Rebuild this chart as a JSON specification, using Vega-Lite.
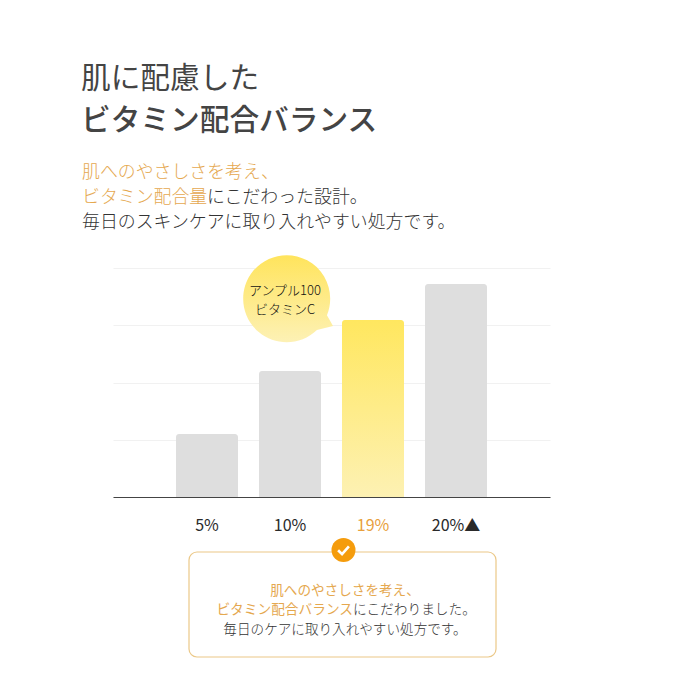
{"$schema":"https://vega.github.io/schema/vega-lite/v6.json","width":437,"height":229,"autosize":"none","padding":{"left":113,"top":268,"right":129,"bottom":182},"background":"white","config":{"view":{"stroke":null},"text":{"font":"Noto Sans CJK JP","baseline":"middle"}},"data":{"values":[{"dose":"5%","level":1.1},{"dose":"10%","level":2.2},{"dose":"19%","level":3.09},{"dose":"20%▲","level":3.72}]},"layer":[{"transform":[{"filter":"datum.dose!=='19%'"}],"mark":{"type":"bar","fill":"#dedede","cornerRadiusTopLeft":3,"cornerRadiusTopRight":3},"encoding":{"x":{"field":"dose","type":"nominal","sort":null,"scale":{"domain":["5%","10%","19%","20%▲"],"paddingInner":0.253,"paddingOuter":0.759},"axis":{"title":null,"labelAngle":0,"ticks":false,"labelPadding":20,"labelFont":"Noto Sans CJK JP","labelFontSize":16,"labelColor":{"condition":{"test":"datum.value==='19%'","value":"#e8a03c"},"value":"#2a2a2a"},"domainColor":"#444444","domainWidth":1,"zindex":1}},"y":{"field":"level","type":"quantitative","scale":{"domain":[0,4],"nice":false},"axis":{"title":null,"labels":false,"ticks":false,"domain":false,"values":[0,1,2,3,4],"grid":true,"gridColor":"#f1f1f1","gridWidth":1}}}},{"transform":[{"filter":"datum.dose==='19%'"}],"mark":{"type":"bar","fill":{"gradient":"linear","x1":0,"y1":0,"x2":0,"y2":1,"stops":[{"offset":0,"color":"#ffe75f"},{"offset":1,"color":"#fdf1b3"}]},"cornerRadiusTopLeft":3,"cornerRadiusTopRight":3},"encoding":{"x":{"field":"dose","type":"nominal","sort":null},"y":{"field":"level","type":"quantitative"}}},{"data":{"values":[{"t":"肌に配慮した"}]},"mark":{"type":"text","align":"left","dx":-126,"fontSize":29.7,"fontWeight":400,"fill":"#444444"},"encoding":{"x":{"datum":"5%","type":"nominal"},"y":{"datum":7.301,"type":"quantitative"},"text":{"field":"t"}}},{"data":{"values":[{"t":"ビタミン配合バランス"}]},"mark":{"type":"text","align":"left","dx":-126,"fontSize":29.7,"fontWeight":500,"fill":"#444444"},"encoding":{"x":{"datum":"5%","type":"nominal"},"y":{"datum":6.568,"type":"quantitative"},"text":{"field":"t"}}},{"data":{"values":[{"t":"肌へのやさしさを考え、"}]},"mark":{"type":"text","align":"left","dx":-125,"fontSize":17.9,"fontWeight":300,"fill":"#e5a84f"},"encoding":{"x":{"datum":"5%","type":"nominal"},"y":{"datum":5.659,"type":"quantitative"},"text":{"field":"t"}}},{"data":{"values":[{"t":"ビタミン配合量"}]},"mark":{"type":"text","align":"left","dx":-125,"fontSize":17.9,"fontWeight":300,"fill":"#e5a84f"},"encoding":{"x":{"datum":"5%","type":"nominal"},"y":{"datum":5.223,"type":"quantitative"},"text":{"field":"t"}}},{"data":{"values":[{"t":"にこだわった設計。"}]},"mark":{"type":"text","align":"left","dx":0,"fontSize":17.9,"fontWeight":300,"fill":"#333333"},"encoding":{"x":{"datum":"5%","type":"nominal"},"y":{"datum":5.223,"type":"quantitative"},"text":{"field":"t"}}},{"data":{"values":[{"t":"毎日のスキンケアに取り入れやすい処方です。"}]},"mark":{"type":"text","align":"left","dx":-125,"fontSize":17.9,"fontWeight":300,"fill":"#333333"},"encoding":{"x":{"datum":"5%","type":"nominal"},"y":{"datum":4.786,"type":"quantitative"},"text":{"field":"t"}}},{"data":{"values":[{"t":"callout"}]},"mark":{"type":"point","shape":"M0.93,0.36 L1.07,0.61 L0.70,0.70 A1,1 0 1 1 0.93,0.36 Z","size":7569,"filled":true,"opacity":1,"xOffset":-3.5,"fill":{"gradient":"linear","x1":0,"y1":0,"x2":0,"y2":1,"stops":[{"offset":0,"color":"#ffe45c"},{"offset":1,"color":"#fdf1b5"}]}},"encoding":{"x":{"datum":"10%","type":"nominal"},"y":{"datum":3.45,"type":"quantitative"}}},{"data":{"values":[{"t":"アンプル100"}]},"mark":{"type":"text","dx":-5,"fontSize":13,"fontWeight":300,"fill":"#111111"},"encoding":{"x":{"datum":"10%","type":"nominal"},"y":{"datum":3.598,"type":"quantitative"},"text":{"field":"t"}}},{"data":{"values":[{"t":"ビタミンC"}]},"mark":{"type":"text","dx":-5,"fontSize":13,"fontWeight":300,"fill":"#111111"},"encoding":{"x":{"datum":"10%","type":"nominal"},"y":{"datum":3.266,"type":"quantitative"},"text":{"field":"t"}}},{"data":{"values":[{"t":"box"}]},"mark":{"type":"point","shape":"M-0.948,-0.342 L0.948,-0.342 A0.052,0.052 0 0 1 1,-0.29 L1,0.29 A0.052,0.052 0 0 1 0.948,0.342 L-0.948,0.342 A0.052,0.052 0 0 1 -1,0.29 L-1,-0.29 A0.052,0.052 0 0 1 -0.948,-0.342 Z","size":94249,"filled":false,"opacity":1,"xOffset":-30.5,"stroke":"#ebc888","strokeWidth":1.2},"encoding":{"x":{"datum":"19%","type":"nominal"},"y":{"datum":-1.878,"type":"quantitative"}}},{"data":{"values":[{"t":"badge"}]},"mark":{"type":"point","shape":"circle","size":576,"filled":true,"opacity":1,"xOffset":-29.5,"fill":"#f59c0c"},"encoding":{"x":{"datum":"19%","type":"nominal"},"y":{"datum":-0.926,"type":"quantitative"}}},{"data":{"values":[{"t":"check"}]},"mark":{"type":"point","shape":"M-0.45,0.02 L-0.12,0.35 L0.45,-0.3","size":576,"filled":false,"opacity":1,"xOffset":-29.5,"stroke":"white","strokeWidth":2.6},"encoding":{"x":{"datum":"19%","type":"nominal"},"y":{"datum":-0.926,"type":"quantitative"}}},{"data":{"values":[{"t":"肌へのやさしさを考え、"}]},"mark":{"type":"text","dx":-28,"fontSize":13.6,"fontWeight":400,"fill":"#e5a84f"},"encoding":{"x":{"datum":"19%","type":"nominal"},"y":{"datum":-1.641,"type":"quantitative"},"text":{"field":"t"}}},{"data":{"values":[{"t":"ビタミン配合バランス"}]},"mark":{"type":"text","align":"right","dx":-20,"fontSize":13.7,"fontWeight":400,"fill":"#e5a84f"},"encoding":{"x":{"datum":"19%","type":"nominal"},"y":{"datum":-1.973,"type":"quantitative"},"text":{"field":"t"}}},{"data":{"values":[{"t":"にこだわりました。"}]},"mark":{"type":"text","align":"left","dx":-20,"fontSize":13.7,"fontWeight":300,"fill":"#333333"},"encoding":{"x":{"datum":"19%","type":"nominal"},"y":{"datum":-1.973,"type":"quantitative"},"text":{"field":"t"}}},{"data":{"values":[{"t":"毎日のケアに取り入れやすい処方です。"}]},"mark":{"type":"text","dx":-28,"fontSize":13.6,"fontWeight":300,"fill":"#333333"},"encoding":{"x":{"datum":"19%","type":"nominal"},"y":{"datum":-2.323,"type":"quantitative"},"text":{"field":"t"}}}]}
